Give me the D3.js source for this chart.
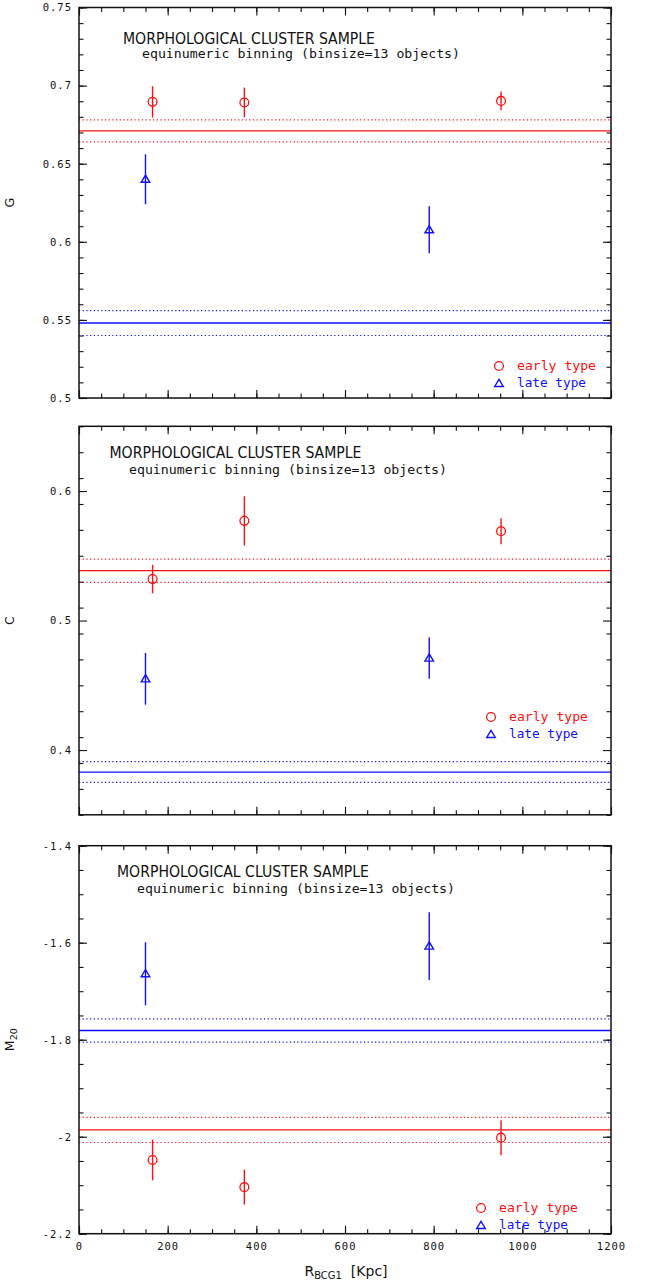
<!DOCTYPE html>
<html>
<head>
<meta charset="utf-8">
<script src="https://cdn.jsdelivr.net/npm/d3@7"></script>
<style>
  html, body { margin: 0; padding: 0; background: #fff; }
  svg { display: block; }
  .tick text { font-family: "DejaVu Sans Mono", monospace; font-size: 10.5px; letter-spacing: 1px; fill: #111; }
</style>
</head>
<body>
<svg id="chart" width="645" height="1282"></svg>
<script>
// Radial distance bins from the BCG [kpc]
const earlyR = [166, 373, 952];
const lateR  = [150, 790];

// Gini coefficient G
const gEarly = [0.6896, 0.6892, 0.6902];
const gEarlyErr = [0.010, 0.0095, 0.006];
const gLate = [0.640, 0.6077];
const gLateErr = [0.016, 0.015];
const gEarlyMean = [0.671, 0.007];
const gLateMean = [0.548, 0.008];

// Concentration C
const cEarly = [0.532, 0.577, 0.569];
const cEarlyErr = [0.011, 0.019, 0.010];
const cLate = [0.455, 0.471];
const cLateErr = [0.020, 0.016];
const cEarlyMean = [0.5385, 0.009];
const cLateMean = [0.383, 0.008];

// Second-order moment M20
const mEarly = [-2.048, -2.104, -2.002];
const mEarlyErr = [0.042, 0.036, 0.036];
const mLate = [-1.664, -1.607];
const mLateErr = [0.065, 0.070];
const mEarlyMean = [-1.986, 0.026];
const mLateMean = [-1.781, 0.024];

// Axis ticks
const xTicks = [0, 200, 400, 600, 800, 1000, 1200];
const xMinor = d3.range(0, 1201, 50);
const gTicks = [0.5, 0.55, 0.6, 0.65, 0.7, 0.75];
const gMinor = d3.range(0, 26).map(i => +(0.5 + i * 0.01).toFixed(2));
const cTicks = [0.4, 0.5, 0.6];
const cMinor = d3.range(0, 16).map(i => +(0.35 + i * 0.02).toFixed(2));
const mTicks = [-2.2, -2, -1.8, -1.6, -1.4];
const mMinor = d3.range(0, 17).map(i => +(-2.2 + i * 0.05).toFixed(2));

const titleText = "MORPHOLOGICAL CLUSTER SAMPLE";
const subtitleText = "equinumeric binning (binsize=13 objects)";
const legendLabels = ["early type", "late type"];

const RED = "#ff1010";
const BLUE = "#1010ff";

const svg = d3.select("#chart");
const left = 79, right = 611;
const x = d3.scaleLinear().domain([0, 1200]).range([left, right]);

const panels = [
  { top: 7.5, bottom: 398, domain: [0.5, 0.75], ticks: gTicks, minor: gMinor,
    early: gEarly, earlyErr: gEarlyErr, late: gLate, lateErr: gLateErr,
    earlyMean: gEarlyMean, lateMean: gLateMean, label: "G", sub: null,
    title: [123, 44], subtitle: [142, 58], legend: [499, 366], xLabels: false },
  { top: 426.3, bottom: 814.8, domain: [0.35, 0.65], ticks: cTicks, minor: cMinor,
    early: cEarly, earlyErr: cEarlyErr, late: cLate, lateErr: cLateErr,
    earlyMean: cEarlyMean, lateMean: cLateMean, label: "C", sub: null,
    title: [109.5, 458], subtitle: [129, 474], legend: [491, 717], xLabels: false },
  { top: 845.7, bottom: 1233.7, domain: [-2.2, -1.4], ticks: mTicks, minor: mMinor,
    early: mEarly, earlyErr: mEarlyErr, late: mLate, lateErr: mLateErr,
    earlyMean: mEarlyMean, lateMean: mLateMean, label: "M", sub: "20",
    title: [117, 877], subtitle: [137, 893], legend: [481, 1208], xLabels: true }
];

const fmt = d => String(+d.toFixed(2));
const triangle = (cx, cy) => `M${cx},${cy - 4.2}L${cx + 4.3},${cy + 3}L${cx - 4.3},${cy + 3}Z`;

panels.forEach(p => {
  const y = d3.scaleLinear().domain(p.domain).range([p.bottom, p.top]);
  const g = svg.append("g");

  // mean levels with their 1-sigma band edges
  [[p.earlyMean, RED], [p.lateMean, BLUE]].forEach(([m, col]) => {
    g.append("line").attr("x1", left).attr("x2", right)
      .attr("y1", y(m[0])).attr("y2", y(m[0]))
      .attr("stroke", col).attr("stroke-width", 1.3);
    [m[0] + m[1], m[0] - m[1]].forEach(v => {
      g.append("line").attr("x1", left).attr("x2", right)
        .attr("y1", y(v)).attr("y2", y(v))
        .attr("stroke", col).attr("stroke-width", 1.2)
        .attr("stroke-dasharray", "1.2,2.5");
    });
  });

  // error bars and markers
  p.early.forEach((v, i) => {
    g.append("line").attr("x1", x(earlyR[i])).attr("x2", x(earlyR[i]))
      .attr("y1", y(v - p.earlyErr[i])).attr("y2", y(v + p.earlyErr[i]))
      .attr("stroke", RED).attr("stroke-width", 1.4);
    g.append("circle").attr("cx", x(earlyR[i])).attr("cy", y(v)).attr("r", 4.4)
      .attr("fill", "none").attr("stroke", RED).attr("stroke-width", 1.3);
  });
  p.late.forEach((v, i) => {
    g.append("line").attr("x1", x(lateR[i])).attr("x2", x(lateR[i]))
      .attr("y1", y(v - p.lateErr[i])).attr("y2", y(v + p.lateErr[i]))
      .attr("stroke", BLUE).attr("stroke-width", 1.4);
    g.append("path").attr("d", triangle(x(lateR[i]), y(v)))
      .attr("fill", "none").attr("stroke", BLUE).attr("stroke-width", 1.4);
  });

  // axes: ticks point inward on all four sides
  const h = p.bottom - p.top;
  const axisStyle = sel => { sel.select(".domain").remove(); sel.selectAll("line").attr("stroke", "#111").attr("stroke-width", 1.1); };
  g.append("g").attr("transform", `translate(${left},0)`)
    .call(d3.axisLeft(y).tickValues(p.minor).tickSize(-4.5).tickFormat(""))
    .call(axisStyle);
  g.append("g").attr("transform", `translate(${left},0)`)
    .call(d3.axisLeft(y).tickValues(p.ticks).tickSize(-8).tickPadding(7).tickFormat(fmt))
    .call(axisStyle);
  g.append("g").attr("transform", `translate(${right},0)`)
    .call(d3.axisRight(y).tickValues(p.minor).tickSize(-4.5).tickFormat(""))
    .call(axisStyle);
  g.append("g").attr("transform", `translate(${right},0)`)
    .call(d3.axisRight(y).tickValues(p.ticks).tickSize(-8).tickFormat(""))
    .call(axisStyle);
  g.append("g").attr("transform", `translate(0,${p.top})`)
    .call(d3.axisTop(x).tickValues(xMinor).tickSize(-4.5).tickFormat(""))
    .call(axisStyle);
  g.append("g").attr("transform", `translate(0,${p.top})`)
    .call(d3.axisTop(x).tickValues(xTicks).tickSize(-8).tickFormat(""))
    .call(axisStyle);
  g.append("g").attr("transform", `translate(0,${p.bottom})`)
    .call(d3.axisBottom(x).tickValues(xMinor).tickSize(-4.5).tickFormat(""))
    .call(axisStyle);
  g.append("g").attr("transform", `translate(0,${p.bottom})`)
    .call(d3.axisBottom(x).tickValues(xTicks).tickSize(-8).tickPadding(9)
      .tickFormat(p.xLabels ? d => String(d) : ""))
    .call(axisStyle);

  g.append("rect").attr("x", left).attr("y", p.top).attr("width", right - left).attr("height", h)
    .attr("fill", "none").attr("stroke", "#111").attr("stroke-width", 1.5);

  // titles
  g.append("text").attr("x", p.title[0]).attr("y", p.title[1])
    .attr("font-family", "DejaVu Sans, sans-serif").attr("font-size", 15)
    .attr("textLength", 252).attr("lengthAdjust", "spacingAndGlyphs")
    .attr("fill", "#111").text(titleText);
  g.append("text").attr("x", p.subtitle[0]).attr("y", p.subtitle[1])
    .attr("font-family", "DejaVu Sans Mono, monospace").attr("font-size", 11.5)
    .attr("textLength", 318).attr("lengthAdjust", "spacingAndGlyphs")
    .attr("fill", "#111").text(subtitleText);

  // legend
  const [lx, ly] = p.legend;
  g.append("circle").attr("cx", lx).attr("cy", ly).attr("r", 4.4)
    .attr("fill", "none").attr("stroke", RED).attr("stroke-width", 1.3);
  g.append("path").attr("d", triangle(lx, ly + 17.5))
    .attr("fill", "none").attr("stroke", BLUE).attr("stroke-width", 1.4);
  g.append("text").attr("x", lx + 18).attr("y", ly + 4)
    .attr("font-family", "DejaVu Sans Mono, monospace").attr("font-size", 12)
    .attr("textLength", 79).attr("lengthAdjust", "spacingAndGlyphs")
    .attr("fill", RED).text(legendLabels[0]);
  g.append("text").attr("x", lx + 18).attr("y", ly + 20.5)
    .attr("font-family", "DejaVu Sans Mono, monospace").attr("font-size", 12)
    .attr("textLength", 69).attr("lengthAdjust", "spacingAndGlyphs")
    .attr("fill", BLUE).text(legendLabels[1]);

  // y-axis label
  const yl = g.append("text")
    .attr("transform", `translate(14,${(p.top + p.bottom) / 2}) rotate(-90)`)
    .attr("text-anchor", "middle")
    .attr("font-family", "DejaVu Sans, sans-serif").attr("font-size", 12.5)
    .attr("fill", "#111");
  yl.append("tspan").text(p.label);
  if (p.sub) yl.append("tspan").attr("font-size", 9.5).attr("dy", 3).text(p.sub);
});

// x-axis label
const xl = svg.append("text").attr("x", 346).attr("y", 1276).attr("text-anchor", "middle")
  .attr("font-family", "DejaVu Sans, sans-serif").attr("font-size", 14).attr("fill", "#111")
  .attr("xml:space", "preserve");
xl.append("tspan").text("R");
xl.append("tspan").attr("font-size", 10).attr("dy", 3).text("BCG1");
xl.append("tspan").attr("dy", -3).text("  [Kpc]");
</script>
</body>
</html>
